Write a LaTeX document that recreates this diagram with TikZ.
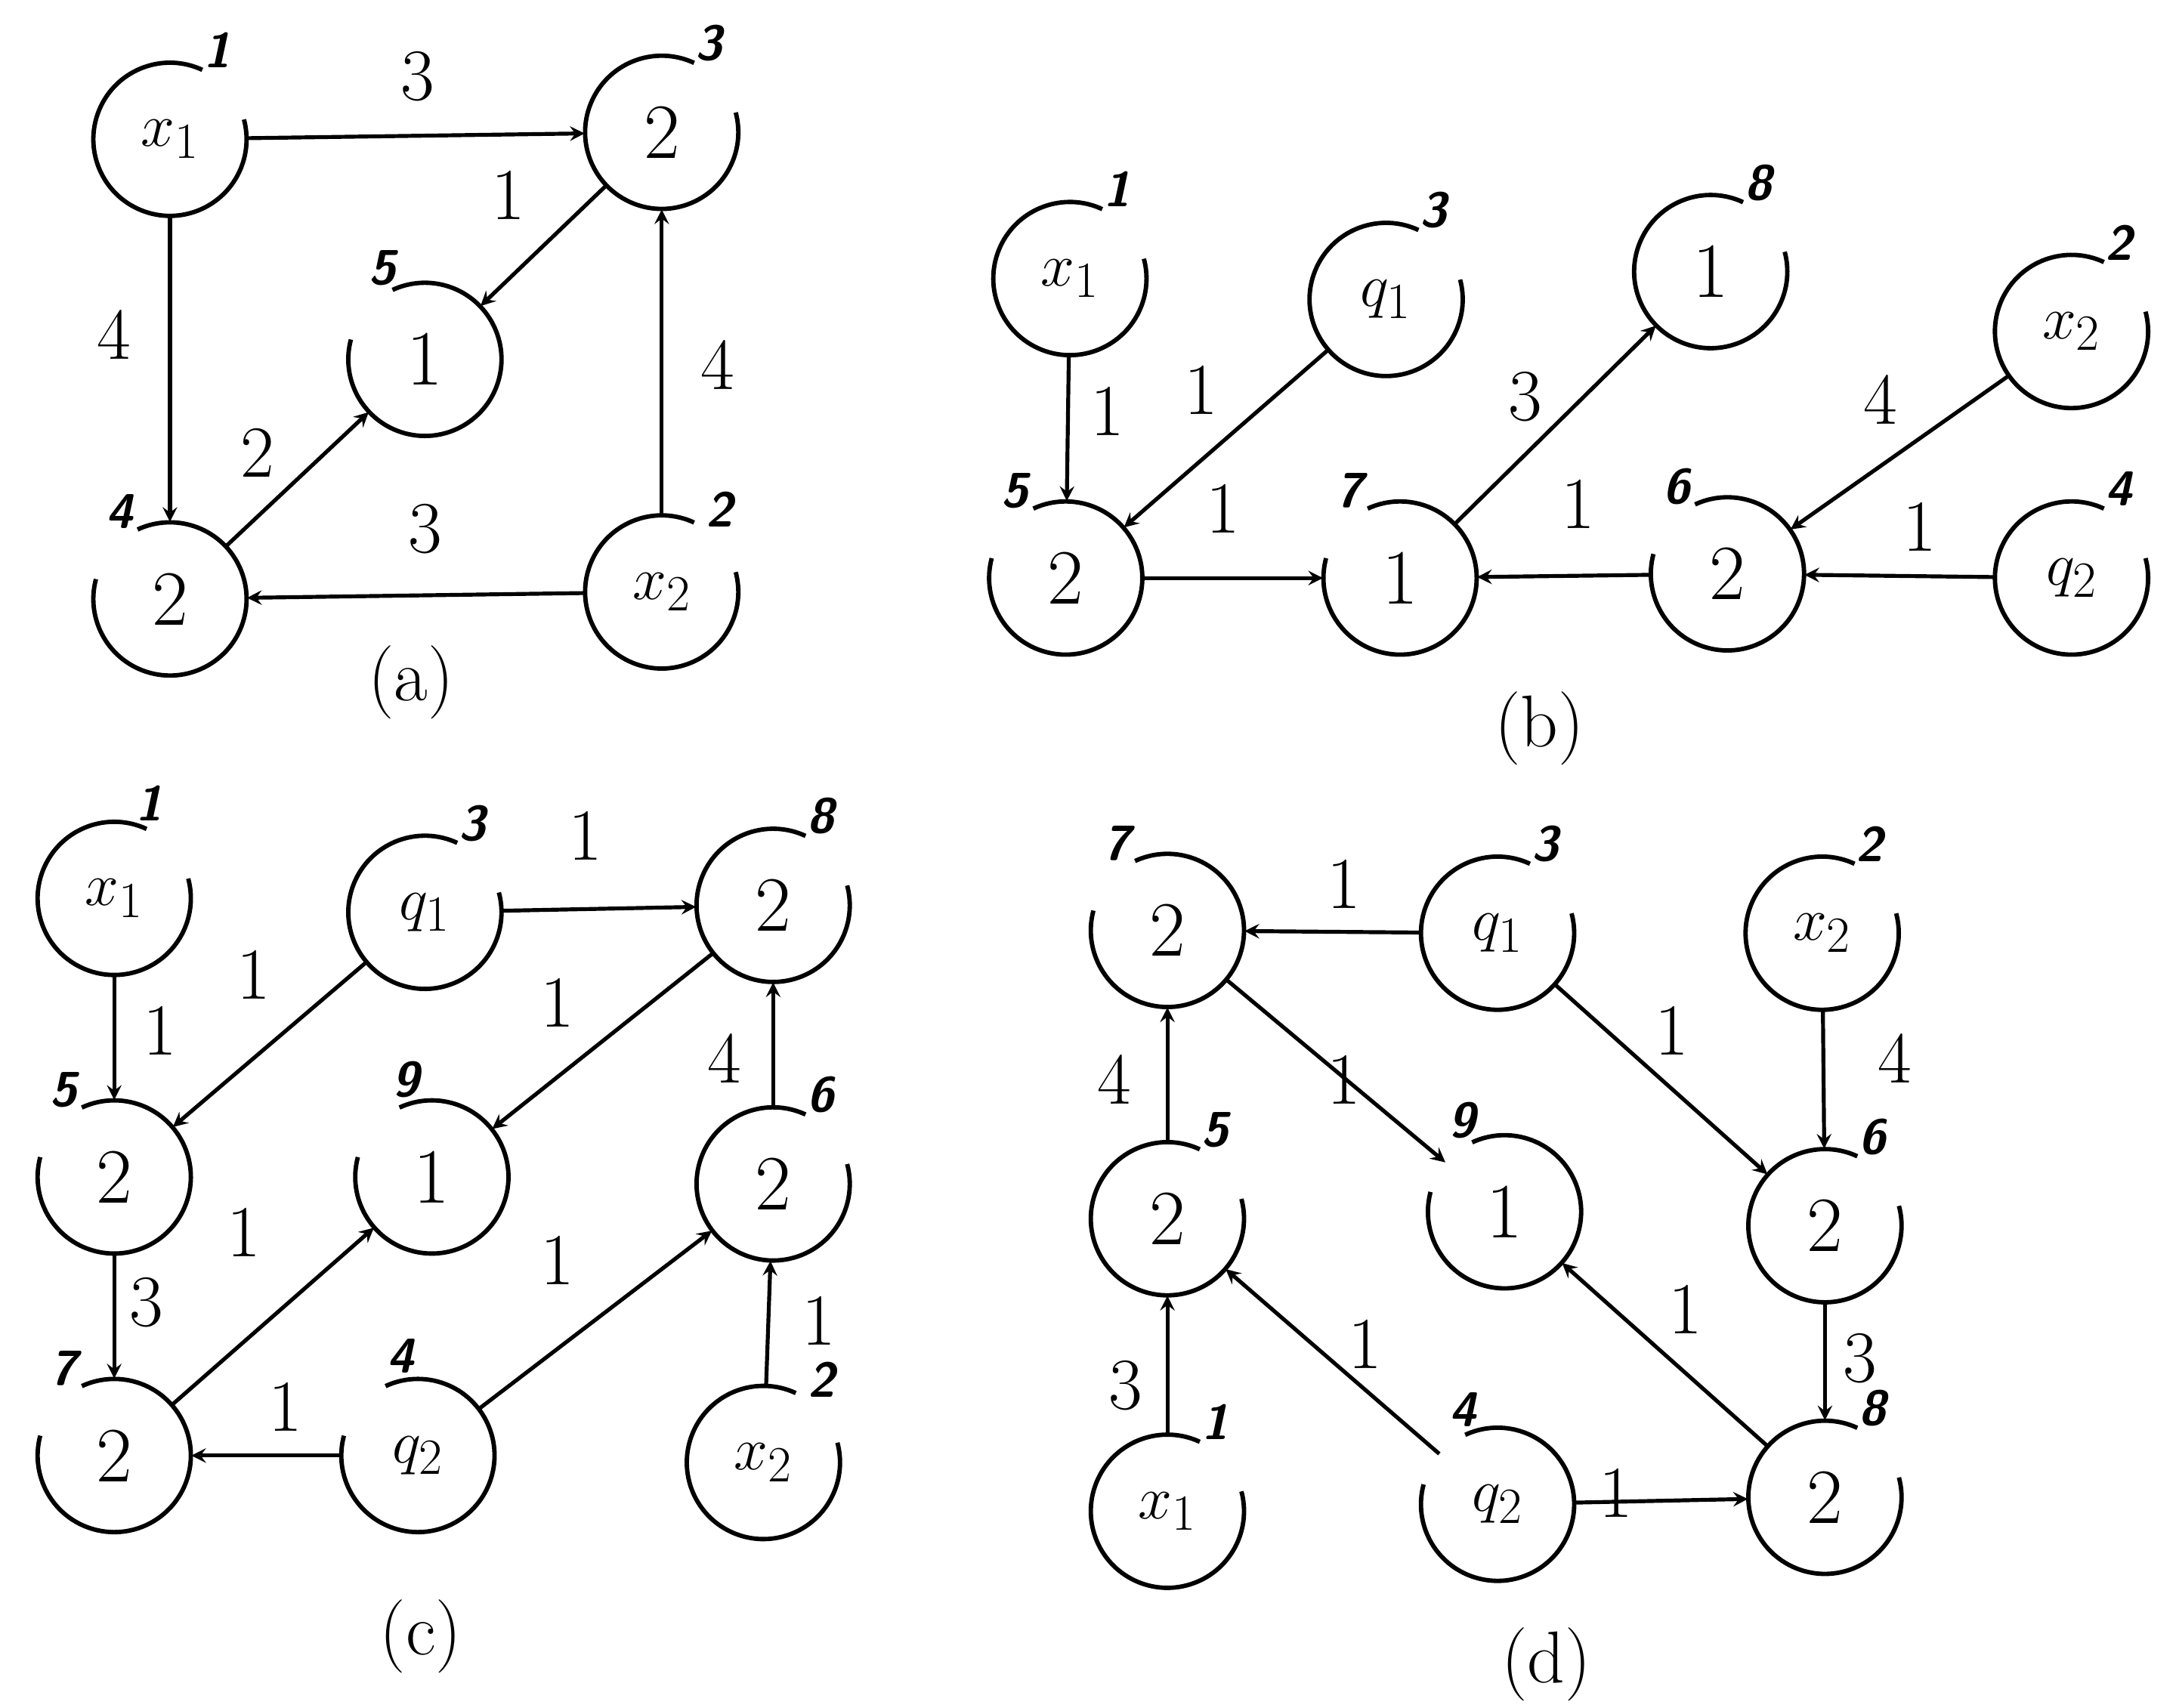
\documentclass[tikz,border=0pt]{standalone}
\usepackage{amsmath}
\usepackage{tikz}
\usetikzlibrary{arrows,positioning,calc}
\newcommand{\opennode}[6]{%
\node [vert] (#1) at (#2) {#3};
\draw [ring] (#1.center) ++(#6:1.1cm) arc[start angle=#6, delta angle=310, radius=1.1cm];
\node [num] at ($(#1.center)+(#5:1.45cm)$) {#4};}
\begin{document}
\begin{tikzpicture}[x=0.02cm,y=-0.02cm]
\tikzstyle{vert}=[circle,minimum size=2.2cm,inner sep=0pt,font=\fontsize{32}{36}\selectfont]
\tikzstyle{ring}=[line width=1.8pt]
\tikzstyle{num}=[font=\fontsize{20}{22}\selectfont\sffamily\bfseries\itshape]
\tikzstyle{arrow}=[line width=1.6pt,->,>=stealth]
\tikzstyle{wt}=[font=\fontsize{30}{34}\selectfont]
\tikzstyle{caption}=[font=\fontsize{30}{34}\selectfont]
\useasboundingbox (0,0) rectangle (1562,1226);
% (a)
\opennode{ax1}{122,100}{$x_1$}{1}{62}{65}
\opennode{a3}{475,95}{2}{3}{62}{65}
\opennode{a5}{305,258}{1}{5}{115}{165}
\opennode{a4}{122,430}{2}{4}{120}{165}
\opennode{ax2}{475,425}{$x_2$}{2}{55}{65}
\draw [arrow] (ax1) -- (a3);
\draw [arrow] (ax1) -- (a4);
\draw [arrow] (a3) -- (a5);
\draw [arrow] (a4) -- (a5);
\draw [arrow] (ax2) -- (a3);
\draw [arrow] (ax2) -- (a4);
\node [wt] at (300,55) {3};
\node [wt] at (82,240) {4};
\node [wt] at (365,140) {1};
\node [wt] at (185,325) {2};
\node [wt] at (515,262) {4};
\node [wt] at (305,380) {3};
\node [caption] at (295,490) {(a)};
% (b)
\opennode{bx1}{768,200}{$x_1$}{1}{62}{65}
\opennode{bq1}{995,215}{$q_1$}{3}{62}{65}
\opennode{b8}{1228,195}{1}{8}{62}{65}
\opennode{bx2}{1487,238}{$x_2$}{2}{62}{65}
\opennode{b5}{765,415}{2}{5}{120}{165}
\opennode{b7}{1005,415}{1}{7}{120}{165}
\opennode{b6}{1240,412}{2}{6}{120}{165}
\opennode{bq2}{1487,415}{$q_2$}{4}{62}{65}
\draw [arrow] (bx1) -- (b5);
\draw [arrow] (bq1) -- (b5);
\draw [arrow] (b5) -- (b7);
\draw [arrow] (b7) -- (b8);
\draw [arrow] (b6) -- (b7);
\draw [arrow] (bx2) -- (b6);
\draw [arrow] (bq2) -- (b6);
\node [wt] at (795,295) {1};
\node [wt] at (862,280) {1};
\node [wt] at (878,365) {1};
\node [wt] at (1095,285) {3};
\node [wt] at (1133,362) {1};
\node [wt] at (1350,287) {4};
\node [wt] at (1378,378) {1};
\node [caption] at (1105,523) {(b)};
% (c)
\opennode{cx1}{82,645}{$x_1$}{1}{70}{65}
\opennode{cq1}{305,655}{$q_1$}{3}{62}{65}
\opennode{c8}{555,650}{2}{8}{62}{65}
\opennode{c5}{82,845}{2}{5}{120}{165}
\opennode{c9}{310,845}{1}{9}{105}{165}
\opennode{c6}{555,850}{2}{6}{62}{65}
\opennode{c7}{82,1045}{2}{7}{120}{165}
\opennode{cq2}{300,1045}{$q_2$}{4}{100}{165}
\opennode{cx2}{548,1050}{$x_2$}{2}{55}{65}
\draw [arrow] (cx1) -- (c5);
\draw [arrow] (cq1) -- (c5);
\draw [arrow] (cq1) -- (c8);
\draw [arrow] (c8) -- (c9);
\draw [arrow] (c6) -- (c8);
\draw [arrow] (c5) -- (c7);
\draw [arrow] (c7) -- (c9);
\draw [arrow] (cq2) -- (c7);
\draw [arrow] (cq2) -- (c6);
\draw [arrow] (cx2) -- (c6);
\node [wt] at (115,740) {1};
\node [wt] at (182,700) {1};
\node [wt] at (420,600) {1};
\node [wt] at (400,720) {1};
\node [wt] at (520,760) {4};
\node [wt] at (105,935) {3};
\node [wt] at (175,885) {1};
\node [wt] at (205,1010) {1};
\node [wt] at (400,905) {1};
\node [wt] at (588,948) {1};
\node [caption] at (302,1175) {(c)};
% (d)
\opennode{d7}{838,668}{2}{7}{120}{165}
\opennode{dq1}{1075,670}{$q_1$}{3}{62}{65}
\opennode{dx2}{1308,670}{$x_2$}{2}{62}{65}
\opennode{d9}{1080,870}{1}{9}{115}{165}
\opennode{d5}{838,875}{2}{5}{62}{65}
\opennode{d6}{1310,880}{2}{6}{62}{65}
\opennode{dx1}{838,1085}{$x_1$}{1}{62}{65}
\opennode{dq2}{1075,1080}{$q_2$}{4}{110}{165}
\opennode{d8}{1310,1075}{2}{8}{62}{65}
\draw [arrow] (dq1) -- (d7);
\draw [arrow] (d7) -- (d9);
\draw [arrow] (dq1) -- (d6);
\draw [arrow] (dx2) -- (d6);
\draw [arrow] (d5) -- (d7);
\draw [arrow] (d6) -- (d8);
\draw [arrow] (d8) -- (d9);
\draw [arrow] (dx1) -- (d5);
\draw [arrow] (dq2) -- (d5);
\draw [arrow] (dq2) -- (d8);
\node [wt] at (965,635) {1};
\node [wt] at (965,775) {1};
\node [wt] at (1200,740) {1};
\node [wt] at (1360,760) {4};
\node [wt] at (800,775) {4};
\node [wt] at (1335,975) {3};
\node [wt] at (1210,940) {1};
\node [wt] at (808,995) {3};
\node [wt] at (980,965) {1};
\node [wt] at (1160,1072) {1};
\node [caption] at (1110,1195) {(d)};
\end{tikzpicture}
\end{document}
